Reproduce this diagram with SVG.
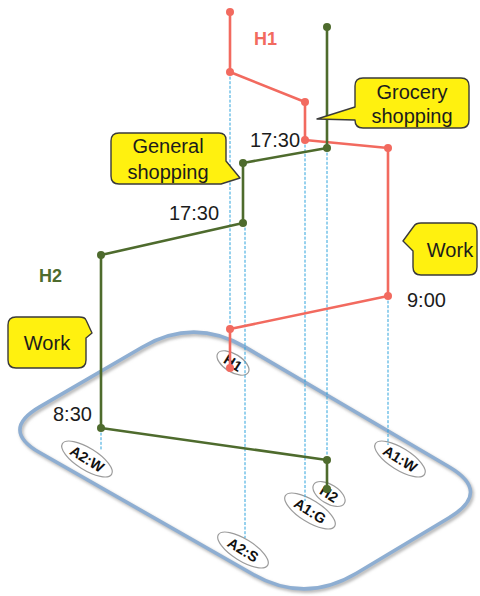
<svg xmlns="http://www.w3.org/2000/svg" width="480" height="596" viewBox="0 0 480 596">
  <style>
    .txt { font-family: "Liberation Sans", Arial, sans-serif; font-size: 20px; fill: #1c1c1c; }
    .mid { text-anchor: middle; }
    .callout { fill: #FFF10F; stroke: #3a3a3a; stroke-width: 1.4; stroke-linejoin: round; }
    .guide { stroke: #2EA3DC; stroke-width: 1; stroke-dasharray: 3 1.6; fill: none; }
    .h1 { stroke: #F26A5F; stroke-width: 2.6; fill: none; stroke-linejoin: round; }
    .h2 { stroke: #4E6B2D; stroke-width: 2.6; fill: none; stroke-linejoin: round; }
    .dot1 { fill: #F26A5F; }
    .dot2 { fill: #4E6B2D; }
    .tag { font-family: "Liberation Sans", Arial, sans-serif; font-weight: bold; font-size: 18px; }
    .loc ellipse { fill: #ffffff; stroke: #9c9c9c; stroke-width: 1.2; }
    .loc text { font-family: "Liberation Sans", Arial, sans-serif; font-weight: bold; font-size: 14.5px; fill: #111; text-anchor: middle; dominant-baseline: central; }
  </style>
  <defs>
    <filter id="soft" x="-10%" y="-10%" width="120%" height="120%">
      <feGaussianBlur stdDeviation="1.6"/>
    </filter>
    <filter id="edge" x="-10%" y="-10%" width="120%" height="120%">
      <feGaussianBlur stdDeviation="0.5"/>
    </filter>
  </defs>

  <rect width="480" height="596" fill="#ffffff"/>

  <!-- ground plane -->
  <g id="plane">
    <path d="M39.7,406.9 L142.2,347.2 Q194,317 245.7,347.4 L448.9,466.7 Q492,492 449.1,517.7 L356.5,573.2 Q305,604 252.9,574.2 L40,452.8 Q0,430 39.7,406.9 Z"
          fill="none" stroke="#b8b8b8" stroke-width="4" transform="translate(1.5,2)" filter="url(#soft)"/>
    <path d="M39.7,406.9 L142.2,347.2 Q194,317 245.7,347.4 L448.9,466.7 Q492,492 449.1,517.7 L356.5,573.2 Q305,604 252.9,574.2 L40,452.8 Q0,430 39.7,406.9 Z"
          fill="none" stroke="#8EAED2" stroke-width="3.6" filter="url(#edge)"/>
  </g>

  <!-- location markers on the plane -->
  <g id="loc-H1" class="loc" transform="translate(233,363) rotate(32)">
    <ellipse rx="18" ry="9"/><text>H1</text>
  </g>
  <g id="loc-A2W" class="loc" transform="translate(87,459) rotate(32)">
    <ellipse rx="29" ry="11"/><text>A2:W</text>
  </g>
  <g id="loc-A1W" class="loc" transform="translate(400,459) rotate(32)">
    <ellipse rx="29" ry="11"/><text>A1:W</text>
  </g>
  <g id="loc-A1G" class="loc" transform="translate(310,511) rotate(32)">
    <ellipse rx="29" ry="11"/><text>A1:G</text>
  </g>
  <g id="loc-H2" class="loc" transform="translate(329,494) rotate(32)">
    <ellipse rx="18" ry="9.5"/><text>H2</text>
  </g>
  <g id="loc-A2S" class="loc" transform="translate(243,550) rotate(32)">
    <ellipse rx="29" ry="11"/><text>A2:S</text>
  </g>

  <!-- connectors: projection guides and the two trajectories -->
  <g id="connectors">
    <line class="guide" x1="230" y1="72" x2="230" y2="329"/>
    <line class="guide" x1="245" y1="223" x2="245" y2="538"/>
    <line class="guide" x1="305" y1="140" x2="305" y2="501"/>
    <line class="guide" x1="327" y1="148" x2="327" y2="460"/>
    <line class="guide" x1="388" y1="296" x2="388" y2="445"/>
    <line class="guide" x1="101" y1="428" x2="101" y2="451"/>

    <polyline id="path-H1" class="h1" points="230,12 230,72 305,102 305,140 388,148 388,296 230,329 230,368"/>
    <polyline id="path-H2" class="h2" points="327,27 327,148 243,163 243,223 101,255 101,428 327,460 327,489"/>

    <g class="dot1">
      <circle cx="230" cy="12" r="4"/>
      <circle cx="230" cy="72" r="4"/>
      <circle cx="305" cy="102" r="4"/>
      <circle cx="305" cy="140" r="4"/>
      <circle cx="388" cy="148" r="4"/>
      <circle cx="388" cy="296" r="4"/>
      <circle cx="230" cy="329" r="4"/>
      <circle cx="230" cy="368" r="4"/>
    </g>
    <g class="dot2">
      <circle cx="327" cy="27" r="4"/>
      <circle cx="327" cy="148" r="4"/>
      <circle cx="243" cy="163" r="4"/>
      <circle cx="243" cy="223" r="4"/>
      <circle cx="101" cy="255" r="4"/>
      <circle cx="101" cy="428" r="4"/>
      <circle cx="327" cy="460" r="4"/>
      <circle cx="327" cy="489" r="4"/>
    </g>
  </g>

  <!-- trajectory labels -->
  <g id="label-H1">
    <text class="tag" x="254" y="45" fill="#F26A5F">H1</text>
  </g>
  <g id="label-H2">
    <text class="tag" x="39" y="282" fill="#4E6B2D">H2</text>
  </g>

  <!-- times -->
  <g id="times">
    <text class="txt" x="250" y="147">17:30</text>
    <text class="txt" x="169" y="220">17:30</text>
    <text class="txt" x="407" y="307">9:00</text>
    <text class="txt" x="53" y="421">8:30</text>
  </g>

  <!-- activity callouts -->
  <g id="callout-grocery">
    <path class="callout" d="M363,78 H461 Q469,78 469,86 V120 Q469,128 461,128 H363 Q355,128 355,120 V120 L317,119 L355,107 V86 Q355,78 363,78 Z"/>
    <text class="txt mid" x="412" y="99">Grocery</text>
    <text class="txt mid" x="412" y="123">shopping</text>
  </g>
  <g id="callout-general">
    <path class="callout" d="M119,133 H219 Q226,133 226,140 V161 L240,178 L221,184 H119 Q111,184 111,176 V141 Q111,133 119,133 Z"/>
    <text class="txt mid" x="168" y="153">General</text>
    <text class="txt mid" x="168" y="179">shopping</text>
  </g>
  <g id="callout-work-a1">
    <path class="callout" d="M421,223 H469 Q477,223 477,231 V267 Q477,275 469,275 H421 Q413,275 413,267 V251 L403,241 L414,226 Q416,223 421,223 Z"/>
    <text class="txt mid" x="450" y="257">Work</text>
  </g>
  <g id="callout-work-a2">
    <path class="callout" d="M16,317 H79 Q85,317 86,320 L92,333 L86,338 V360 Q86,368 78,368 H16 Q8,368 8,360 V325 Q8,317 16,317 Z"/>
    <text class="txt mid" x="47" y="350">Work</text>
  </g>
</svg>
